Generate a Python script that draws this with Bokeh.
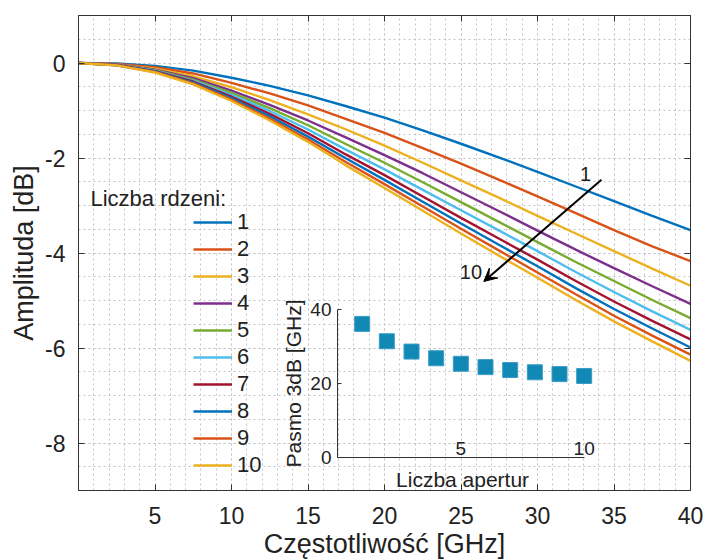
from bokeh.plotting import figure
from bokeh.models import (Range1d, LinearAxis, FixedTicker, Legend, LegendItem,
                          Label, Arrow, VeeHead)
from bokeh.embed import file_html
from bokeh.resources import INLINE

# ---------------- data ----------------
freq_ghz = [0, 2.5, 5, 7.5, 10, 12.5, 15, 17.5, 20, 22.5, 25, 27.5, 30, 32.5, 35, 37.5, 40]

amp_1 = [0, -0.01, -0.06, -0.16, -0.31, -0.48, -0.68, -0.91, -1.15, -1.42, -1.70, -1.99, -2.29, -2.60, -2.91, -3.22, -3.52]
amp_2 = [0, -0.02, -0.09, -0.22, -0.42, -0.64, -0.89, -1.18, -1.47, -1.79, -2.12, -2.46, -2.81, -3.16, -3.52, -3.86, -4.17]
amp_3 = [0, -0.03, -0.12, -0.28, -0.51, -0.78, -1.08, -1.40, -1.74, -2.10, -2.47, -2.84, -3.22, -3.59, -3.96, -4.33, -4.69]
amp_4 = [0, -0.03, -0.14, -0.32, -0.58, -0.88, -1.21, -1.57, -1.94, -2.32, -2.72, -3.12, -3.53, -3.93, -4.32, -4.70, -5.07]
amp_5 = [0, -0.04, -0.15, -0.35, -0.63, -0.95, -1.31, -1.71, -2.10, -2.51, -2.93, -3.35, -3.77, -4.19, -4.59, -4.99, -5.37]
amp_6 = [0, -0.04, -0.16, -0.37, -0.67, -1.01, -1.40, -1.83, -2.24, -2.67, -3.10, -3.53, -3.96, -4.40, -4.82, -5.23, -5.62]
amp_7 = [0, -0.04, -0.17, -0.39, -0.71, -1.07, -1.48, -1.93, -2.36, -2.81, -3.26, -3.70, -4.14, -4.59, -5.02, -5.43, -5.82]
amp_8 = [0, -0.05, -0.18, -0.41, -0.74, -1.12, -1.55, -2.01, -2.46, -2.92, -3.38, -3.83, -4.28, -4.74, -5.18, -5.59, -5.99]
amp_9 = [0, -0.05, -0.19, -0.43, -0.77, -1.17, -1.61, -2.09, -2.55, -3.02, -3.49, -3.95, -4.41, -4.87, -5.32, -5.74, -6.14]
amp_10 = [0, -0.05, -0.20, -0.45, -0.80, -1.21, -1.66, -2.16, -2.63, -3.11, -3.59, -4.06, -4.52, -4.99, -5.44, -5.86, -6.27]

core_labels = ["1", "2", "3", "4", "5", "6", "7", "8", "9", "10"]
amplitudes = [amp_1, amp_2, amp_3, amp_4, amp_5, amp_6, amp_7, amp_8, amp_9, amp_10]

x_ticks = [5, 10, 15, 20, 25, 30, 35, 40]
y_ticks = [-8, -6, -4, -2, 0]

# inset data
apertures = [1, 2, 3, 4, 5, 6, 7, 8, 9, 10]
bandwidth_3db = [36.1, 31.4, 28.6, 26.8, 25.3, 24.4, 23.6, 23.0, 22.5, 22.0]
inset_x_ticks = [5, 10]
inset_y_ticks = [0, 20, 40]

# ---------------- styles ----------------
colors = ["#0072BD", "#D95319", "#EDB120", "#7E2F8E", "#77AC30",
          "#4DBEEE", "#A2142F", "#0072BD", "#D95319", "#EDB120"]
FONT = "Liberation Sans"
TXT = "#222222"
AX = "#333333"
GRID = "#c4c4c4"

p = figure(frame_width=612, frame_height=475, output_backend="svg", toolbar_location=None,
           x_range=Range1d(0, 40), y_range=Range1d(-9, 1),
           min_border_left=78, min_border_right=14, min_border_top=15, min_border_bottom=70,
           background_fill_color="white", border_fill_color="white")
p.outline_line_color = AX
p.outline_line_width = 1

# inset coordinate system mapped onto the main frame
p.extra_x_ranges = {"ins_x": Range1d(-10.50, 14.31)}
p.extra_y_ranges = {"ins_y": Range1d(-9.02, 119.62)}

xt = FixedTicker(ticks=x_ticks, minor_ticks=list(range(0, 41)))
yt = FixedTicker(ticks=y_ticks, minor_ticks=[-9 + 0.5 * k for k in range(21)])

def style_main_axis(ax, ticker):
    ax.ticker = ticker
    ax.major_tick_in = 6
    ax.major_tick_out = 0
    ax.minor_tick_line_color = None
    ax.axis_line_color = AX
    ax.major_tick_line_color = AX
    ax.major_label_text_font = FONT
    ax.major_label_text_color = TXT
    ax.axis_label_text_font = FONT
    ax.axis_label_text_font_style = "normal"
    ax.axis_label_text_color = TXT

xa = p.xaxis[0]
ya = p.yaxis[0]
style_main_axis(xa, xt)
style_main_axis(ya, yt)
xa.major_label_text_font_size = "23px"
ya.major_label_text_font_size = "23px"
xa.major_label_standoff = 12
ya.major_label_standoff = 9
xa.axis_label = "Częstotliwość [GHz]"
ya.axis_label = "Amplituda [dB]"
xa.axis_label_text_font_size = "27px"
ya.axis_label_text_font_size = "27px"
xa.axis_label_standoff = 2
ya.axis_label_standoff = 3
ya.major_label_overrides = {t: str(t) for t in y_ticks}

top_ax = LinearAxis()
style_main_axis(top_ax, xt)
top_ax.major_label_text_font_size = "1px"
top_ax.major_label_text_color = None
top_ax.major_label_standoff = 0
right_ax = LinearAxis()
style_main_axis(right_ax, yt)
right_ax.major_label_text_font_size = "1px"
right_ax.major_label_text_color = None
right_ax.major_label_standoff = 0
p.add_layout(top_ax, "above")
p.add_layout(right_ax, "right")

for g in (p.xgrid[0], p.ygrid[0]):
    g.grid_line_color = GRID
    g.grid_line_dash = "2 3"
    g.grid_line_width = 1
    g.minor_grid_line_color = GRID
    g.minor_grid_line_dash = "2 3"
    g.minor_grid_line_width = 1
p.xgrid[0].ticker = xt
p.ygrid[0].ticker = yt

# ---------------- curves ----------------
items = []
for lab, amp, col in zip(core_labels, amplitudes, colors):
    r = p.line(freq_ghz, amp, line_color=col, line_width=2.4)
    items.append(LegendItem(label=lab, renderers=[r]))

legend = Legend(items=items, location=(115, 12),
                label_text_font=FONT, label_text_font_size="22px", label_text_color=TXT,
                glyph_width=39, glyph_height=20, label_height=20, label_standoff=5,
                spacing=1, padding=0, margin=0,
                border_line_color=None, background_fill_alpha=0)
p.add_layout(legend)

p.add_layout(Label(x=0.78, y=-2.86, text="Liczba rdzeni:", text_font=FONT,
                   text_font_size="22px", text_color=TXT, text_baseline="alphabetic"))

# arrow with labels
p.add_layout(Arrow(x_start=34.18, y_start=-2.46, x_end=26.49, y_end=-4.60,
                   line_width=2, line_color="black",
                   end=VeeHead(size=13, fill_color="black", line_color="black")))
p.add_layout(Label(x=33.14, y=-2.33, text="1", text_align="center", text_baseline="alphabetic",
                   text_font=FONT, text_font_size="20px", text_color=TXT))
p.add_layout(Label(x=25.65, y=-4.40, text="10", text_align="center", text_baseline="alphabetic",
                   text_font=FONT, text_font_size="20px", text_color=TXT))

# ---------------- inset ----------------
p.scatter(apertures, bandwidth_3db, marker="square", size=15,
          fill_color="#1288B4", line_color="#3a9cc6", line_width=1,
          x_range_name="ins_x", y_range_name="ins_y")

iy = LinearAxis(x_range_name="ins_x", y_range_name="ins_y", fixed_location=0, bounds=(0, 40),
                ticker=FixedTicker(ticks=inset_y_ticks))
iy.major_tick_in = 4
iy.major_tick_out = 0
iy.minor_tick_line_color = None
iy.axis_line_color = AX
iy.major_tick_line_color = AX
iy.major_label_text_font = FONT
iy.major_label_text_font_size = "19px"
iy.major_label_text_color = TXT
iy.major_label_standoff = 6
iy.axis_label = "Pasmo 3dB [GHz]"
iy.axis_label_text_font = FONT
iy.axis_label_text_font_size = "21px"
iy.axis_label_text_font_style = "normal"
iy.axis_label_text_color = TXT
iy.axis_label_standoff = 2
p.add_layout(iy, "left")

ix = LinearAxis(x_range_name="ins_x", y_range_name="ins_y", fixed_location=0, bounds=(0, 10),
                ticker=FixedTicker(ticks=inset_x_ticks))
ix.major_tick_in = 0
ix.major_tick_out = 0
ix.minor_tick_line_color = None
ix.axis_line_color = AX
ix.major_label_text_font = FONT
ix.major_label_text_font_size = "19px"
ix.major_label_text_color = TXT
ix.major_label_standoff = 2
p.add_layout(ix, "above")

p.add_layout(Label(x=5.07, y=-6.04, x_range_name="ins_x", y_range_name="ins_y",
                   text="Liczba apertur", text_align="center", text_baseline="middle",
                   text_font=FONT, text_font_size="21px", text_color=TXT))

open("out.html", "w").write(file_html(p, INLINE))
